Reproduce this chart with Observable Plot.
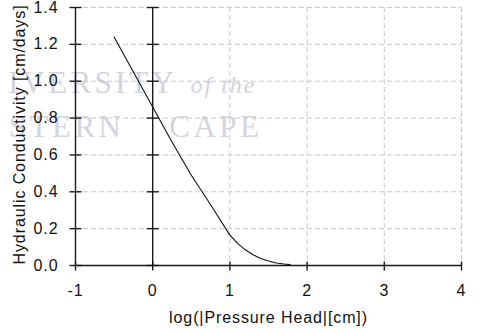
<!DOCTYPE html>
<html>
<head>
<meta charset="utf-8">
<script src="https://cdn.jsdelivr.net/npm/d3@7"></script>
<script src="https://cdn.jsdelivr.net/npm/@observablehq/plot@0.6"></script>
<style>
  html, body { margin: 0; padding: 0; background: #ffffff; }
  #chart svg text { letter-spacing: 0.9px; }
  #chart svg g[font-family*="Serif"] text { letter-spacing: 3.5px; }
  #chart svg g[font-family*="Serif"][font-style="italic"] text { letter-spacing: 2px; }
</style>
</head>
<body>
<div id="chart"></div>
<script>
// ---- data ----
const logHead = [-0.5, -0.25, 0, 0.25, 0.5, 0.75, 1.0, 1.1, 1.2, 1.3, 1.4, 1.5, 1.6, 1.7, 1.78];
const conductivity = [1.24, 1.05, 0.86, 0.67, 0.49, 0.33, 0.165, 0.12, 0.085, 0.058, 0.038, 0.024, 0.014, 0.008, 0.005];
const xTicks = [-1, 0, 1, 2, 3, 4];
const yTicks = [0, 0.2, 0.4, 0.6, 0.8, 1.0, 1.2, 1.4];
const xGrid = [1, 2, 3, 4];
const yGrid = [0.2, 0.4, 0.6, 0.8, 1.0, 1.2, 1.4];
const axisLinesX = [-1, 0];
const xLabel = "log(|Pressure Head|[cm])";
const yLabel = "Hydraulic Conductivity [cm/days]";
const watermarkWords = ["IVERSITY", "of the", "STERN", "CAPE"];

const curve = logHead.map((x, i) => ({x, y: conductivity[i]}));

// tick-shaped symbols
const hTick = {draw(ctx, size) { const r = Math.sqrt(size / Math.PI); ctx.moveTo(-r, 0); ctx.lineTo(r, 0); }};
const vTick = {draw(ctx, size) { const r = Math.sqrt(size / Math.PI); ctx.moveTo(0, -r); ctx.lineTo(0, r); }};

const axisColor = "#1a1a1a";
const wmColor = "#d3d4dd";
const serif = "'Liberation Serif', 'DejaVu Serif', serif";

const chart = Plot.plot({
  width: 484,
  height: 332,
  marginLeft: 75,
  marginRight: 23,
  marginTop: 7,
  marginBottom: 67,
  x: {domain: [-1, 4], axis: null},
  y: {domain: [0, 1.4], axis: null},
  style: {fontFamily: "'Liberation Sans', Arial, sans-serif", fontSize: "16px", color: "#111", background: "#ffffff"},
  marks: [
    // faint watermark
    Plot.text([watermarkWords[0]], {frameAnchor: "top-left", text: d => d, textAnchor: "end", lineAnchor: "middle", dx: 102, dy: 76,
      fontFamily: serif, fontSize: 31, fill: wmColor}),
    Plot.text([watermarkWords[1]], {frameAnchor: "top-left", text: d => d, textAnchor: "start", lineAnchor: "middle", dx: 115, dy: 78,
      fontFamily: serif, fontStyle: "italic", fontSize: 24, fill: wmColor}),
    Plot.text([watermarkWords[2]], {frameAnchor: "top-left", text: d => d, textAnchor: "end", lineAnchor: "middle", dx: 49, dy: 120,
      fontFamily: serif, fontSize: 31, fill: wmColor}),
    Plot.text([watermarkWords[3]], {frameAnchor: "top-left", text: d => d, textAnchor: "end", lineAnchor: "middle", dx: 187, dy: 120,
      fontFamily: serif, fontSize: 31, fill: wmColor}),
    // dashed grid
    Plot.gridX(xGrid, {stroke: "#c8c8c8", strokeOpacity: 1, strokeDasharray: "5,3", strokeWidth: 1}),
    Plot.gridY(yGrid, {stroke: "#c8c8c8", strokeOpacity: 1, strokeDasharray: "5,3", strokeWidth: 1}),
    // axis lines
    Plot.ruleX(axisLinesX, {stroke: axisColor, strokeWidth: 1.4}),
    Plot.ruleY([0], {stroke: axisColor, strokeWidth: 1.4}),
    // crossing ticks
    ...axisLinesX.map(ax => Plot.dot(yTicks, {x: ax, y: d => d, symbol: hTick, r: 6, stroke: axisColor, strokeWidth: 1.4, fill: "none"})),
    Plot.dot(xTicks, {x: d => d, y: 0, symbol: vTick, r: 4.5, dy: 0.5, stroke: axisColor, strokeWidth: 1.4, fill: "none"}),
    // curve
    Plot.line(curve, {x: "x", y: "y", stroke: "#111", strokeWidth: 1.1, curve: "linear"}),
    // tick labels
    Plot.text(yTicks, {x: -1, y: d => d, text: d => d.toFixed(1), textAnchor: "end", dx: -17, fill: "#111"}),
    Plot.text(xTicks, {x: d => d, y: 0, text: d => String(d), dy: 25, fill: "#111"}),
    // axis titles
    Plot.text([xLabel], {frameAnchor: "bottom", text: d => d, lineAnchor: "middle", dy: 52, fill: "#111"}),
    Plot.text([yLabel], {frameAnchor: "left", text: d => d, rotate: -90, textAnchor: "middle", lineAnchor: "middle", dx: -56, dy: -2, fill: "#111"})
  ]
});

document.getElementById("chart").appendChild(chart);
</script>
</body>
</html>
